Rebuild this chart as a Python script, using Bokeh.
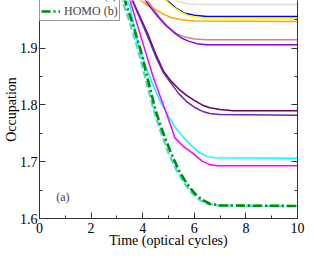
from bokeh.plotting import figure
from bokeh.models import (FixedTicker, LinearAxis, Legend, LegendItem, Range1d,
                          Label, CustomJSTickFormatter)
from bokeh.embed import file_html
from bokeh.resources import INLINE

# --- data (time in optical cycles, occupation) ---
t_grey = [0, 4.5, 5.0, 5.4, 5.8, 6.3, 10]
v_grey = [2.0, 1.998, 1.99, 1.982, 1.978, 1.977, 1.977]

t_blue = [0, 4.6, 5.0, 5.3, 5.6, 6.0, 6.5, 10]
v_blue = [2.0, 1.998, 1.982, 1.970, 1.962, 1.958, 1.956, 1.956]

t_yellow = [0, 4.4, 4.9, 5.2, 5.5, 5.8, 6.3, 10]
v_yellow = [2.0, 1.998, 1.984, 1.972, 1.963, 1.957, 1.953, 1.952]

t_orange = [0, 3.6, 3.9, 4.2, 4.5, 4.8, 5.1, 5.5, 6.0, 10]
v_orange = [2.0, 1.998, 1.985, 1.975, 1.968, 1.960, 1.954, 1.950, 1.948, 1.947]

t_brown = [0, 3.8, 4.1, 4.4, 4.7, 5.0, 5.3, 5.6, 6.0, 6.5, 10]
v_brown = [2.0, 1.998, 1.990, 1.970, 1.952, 1.937, 1.926, 1.920, 1.916, 1.915, 1.915]

t_violet = [0, 3.7, 4.0, 4.3, 4.6, 4.9, 5.2, 5.5, 5.8, 6.1, 6.5, 10]
v_violet = [2.0, 1.998, 1.990, 1.972, 1.955, 1.940, 1.928, 1.918, 1.912, 1.908, 1.906, 1.906]

t_maroon = [0, 3.4, 3.6, 3.9, 4.2, 4.5, 4.8, 5.1, 5.4, 5.7, 6.0, 6.3, 6.6, 7.0, 7.5, 10]
v_maroon = [2.0, 1.998, 1.985, 1.955, 1.925, 1.890, 1.860, 1.842, 1.828, 1.817, 1.808, 1.800, 1.795, 1.792, 1.790, 1.790]

t_indigo = [0, 3.4, 3.6, 3.9, 4.2, 4.5, 4.8, 5.1, 5.4, 5.7, 6.0, 6.3, 6.6, 7.0, 10]
v_indigo = [2.0, 1.998, 1.983, 1.952, 1.920, 1.886, 1.857, 1.838, 1.820, 1.806, 1.796, 1.789, 1.785, 1.783, 1.782]

t_cyan = [0, 3.2, 3.5, 3.8, 4.1, 4.4, 4.7, 5.0, 5.3, 5.6, 5.9, 6.2, 6.5, 6.8, 10]
v_cyan = [2.0, 1.998, 1.975, 1.910, 1.870, 1.835, 1.805, 1.780, 1.758, 1.742, 1.728, 1.716, 1.709, 1.707, 1.706]

t_magenta = [0, 3.3, 3.5, 3.8, 4.1, 4.4, 4.8, 5.0, 5.25, 5.6, 6.0, 6.3, 6.6, 6.9, 10]
v_magenta = [2.0, 1.998, 1.985, 1.940, 1.895, 1.850, 1.800, 1.775, 1.742, 1.726, 1.713, 1.701, 1.695, 1.693, 1.693]

t_homo_a = [0, 2.9, 3.2, 3.5, 3.8, 4.1, 4.4, 4.7, 5.0, 5.3, 5.6, 5.9, 6.2, 6.5, 6.9, 10]
v_homo_a = [2.0, 1.998, 1.985, 1.945, 1.900, 1.848, 1.795, 1.752, 1.715, 1.686, 1.663, 1.645, 1.633, 1.626, 1.623, 1.622]

t_homo_b = [0, 3.0, 3.3, 3.6, 3.9, 4.2, 4.5, 4.8, 5.1, 5.4, 5.7, 6.0, 6.3, 6.6, 7.0, 10]
v_homo_b = [2.0, 1.998, 1.985, 1.945, 1.900, 1.845, 1.790, 1.750, 1.715, 1.685, 1.662, 1.645, 1.633, 1.626, 1.623, 1.622]

x_ticks = [0, 2, 4, 6, 8, 10]
x_minor = [1, 3, 5, 7, 9]
y_ticks = [1.6, 1.7, 1.8, 1.9]
y_minor = [1.65, 1.75, 1.85, 1.95]

legend_labels = ["HOMO (a)", "HOMO (b)"]
panel_tag = "(a)"

FONT = "Liberation Serif"

p = figure(width=308, height=262, output_backend="svg", toolbar_location=None,
           x_range=Range1d(0, 10), y_range=Range1d(1.6, 1.984),
           min_border_left=28, min_border_right=11, min_border_bottom=44,
           min_border_top=0)
p.outline_line_color = None
p.grid.visible = False
p.background_fill_color = "white"
p.border_fill_color = "white"

solid = [
    (t_grey, v_grey, "#dcdcdc"),
    (t_blue, v_blue, "#0000ff"),
    (t_yellow, v_yellow, "#ffff00"),
    (t_orange, v_orange, "#ffa500"),
    (t_brown, v_brown, "#bc8f8f"),
    (t_violet, v_violet, "#9400d3"),
    (t_maroon, v_maroon, "#670748"),
    (t_indigo, v_indigo, "#7221bc"),
    (t_cyan, v_cyan, "#00ffff"),
    (t_magenta, v_magenta, "#ff00ff"),
]
for xs, ys, c in solid:
    p.line(xs, ys, line_color=c, line_width=1.5)

ra = p.line(t_homo_a, v_homo_a, line_color="#40e0d0", line_width=2.2, line_dash="7 3")
rb = p.line(t_homo_b, v_homo_b, line_color="#008b00", line_width=2.6, line_dash="9 3 2 3")

def style_axis(ax, major, minor):
    ax.ticker = FixedTicker(ticks=major, minor_ticks=minor)
    ax.major_tick_in = 6
    ax.major_tick_out = 0
    ax.minor_tick_in = 3
    ax.minor_tick_out = 0
    ax.axis_line_color = "#333333"
    ax.major_tick_line_color = "#333333"
    ax.minor_tick_line_color = "#333333"
    ax.major_label_text_font = FONT
    ax.major_label_text_font_size = "14px"
    ax.major_label_text_color = "black"
    ax.axis_label_text_font = FONT
    ax.axis_label_text_font_size = "14px"
    ax.axis_label_text_font_style = "normal"
    ax.axis_label_text_color = "black"

style_axis(p.xaxis[0], x_ticks, x_minor)
p.xaxis[0].axis_label = "Time (optical cycles)"
p.xaxis[0].major_label_standoff = 4
p.xaxis[0].axis_label_standoff = -3

style_axis(p.yaxis[0], y_ticks, y_minor)
p.yaxis[0].axis_label = "Occupation"
p.yaxis[0].major_label_standoff = 2
p.yaxis[0].axis_label_standoff = -2

right = LinearAxis(formatter=CustomJSTickFormatter(code="return ''"))
style_axis(right, y_ticks, y_minor)
right.major_label_standoff = 0
p.add_layout(right, "right")

legend = Legend(items=[LegendItem(label=legend_labels[0], renderers=[ra]),
                       LegendItem(label=legend_labels[1], renderers=[rb])],
                location=(0, 197))
legend.label_text_font = FONT
legend.label_text_font_size = "12px"
legend.label_height = 16
legend.glyph_height = 16
legend.glyph_width = 19
legend.label_standoff = 4
legend.spacing = 0
legend.padding = 1
legend.margin = 0
legend.border_line_color = "#333333"
legend.border_line_width = 1
legend.background_fill_color = "white"
legend.background_fill_alpha = 1
p.add_layout(legend, "center")

p.add_layout(Label(x=0.65, y=1.637, text=panel_tag, text_font=FONT,
                   text_font_size="12px", text_baseline="middle"))

open("out.html", "w").write(file_html(p, INLINE))
